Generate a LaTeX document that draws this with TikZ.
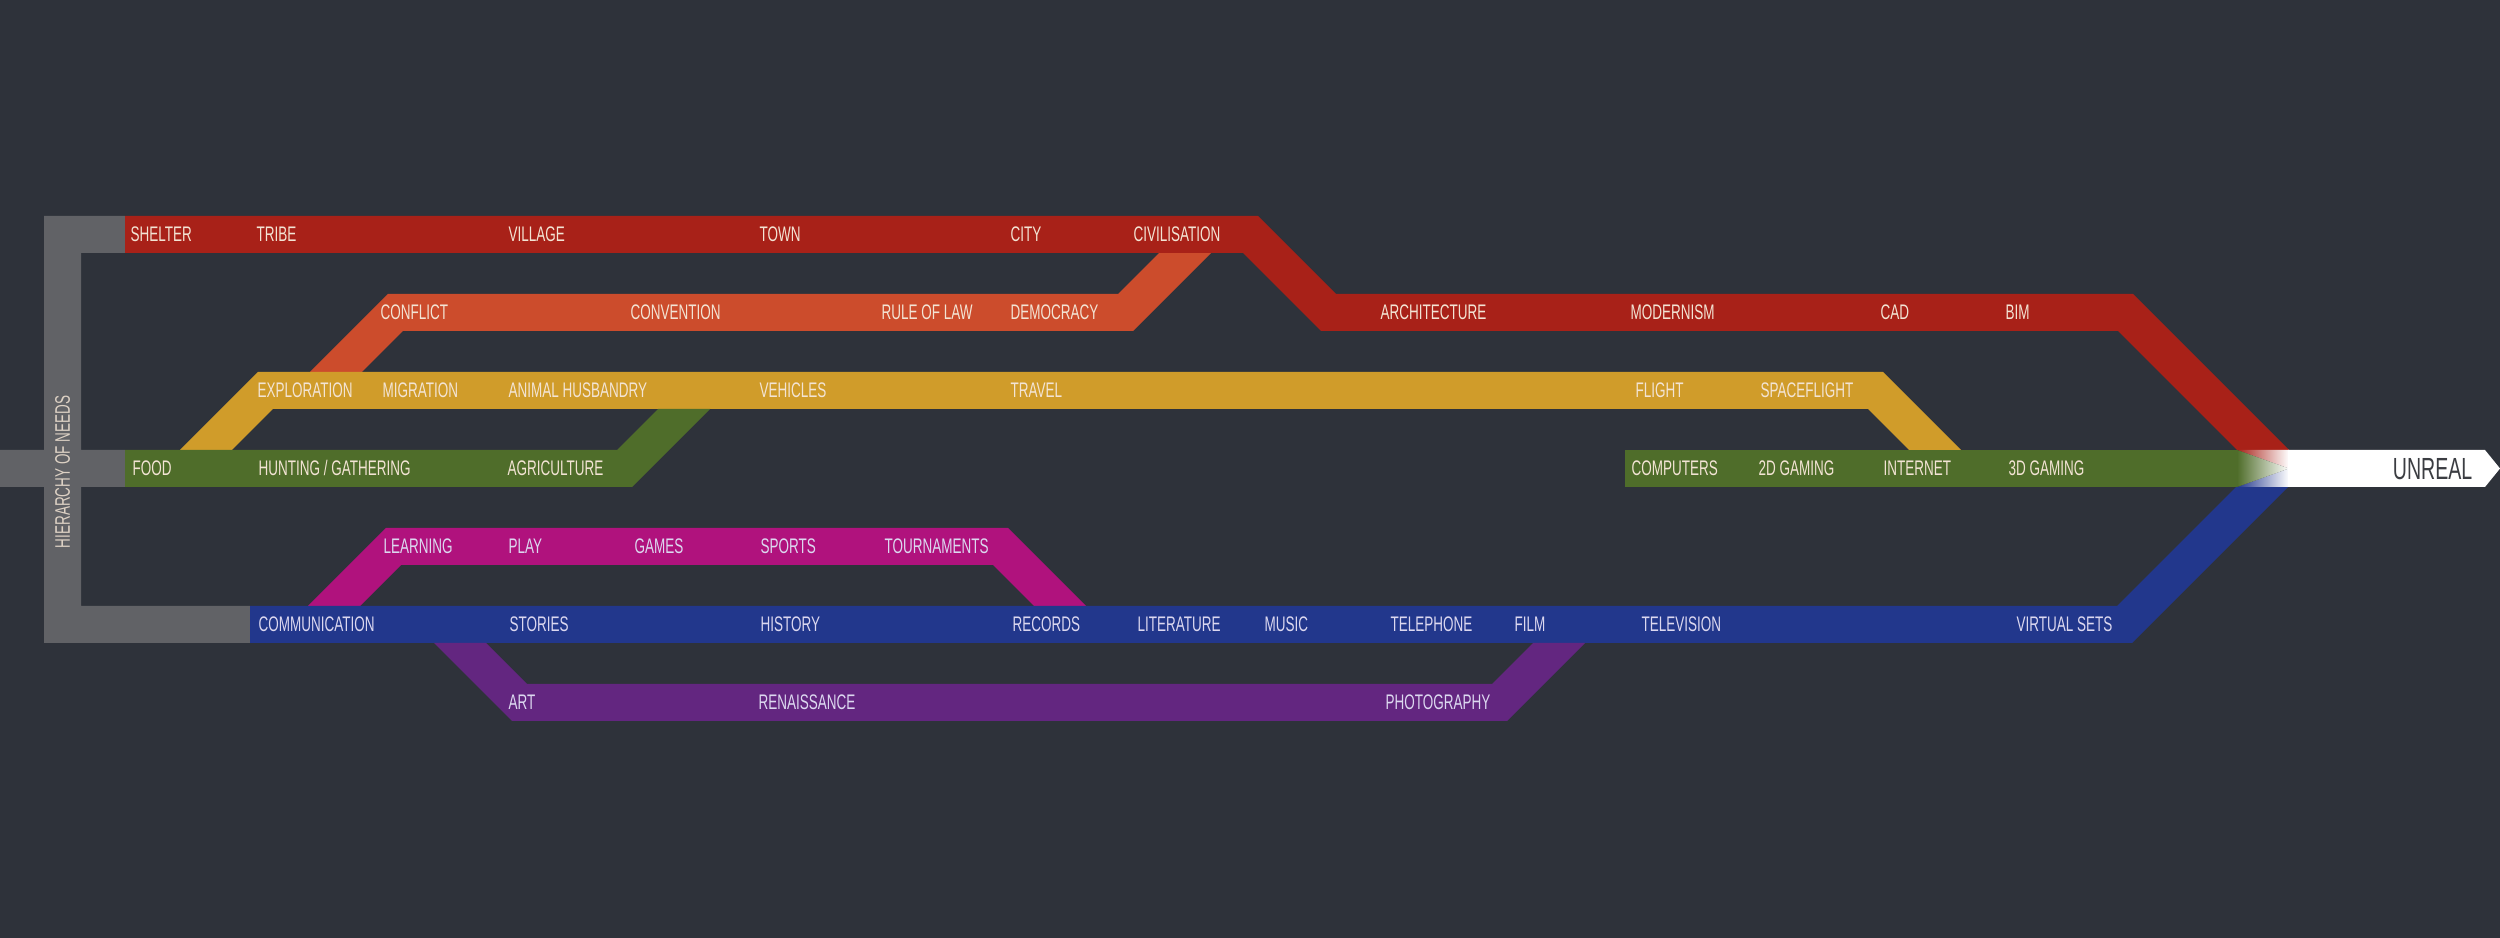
\documentclass[tikz,border=0pt]{standalone}
\usepackage{fontspec}
\newfontfamily\oswfont{Liberation Sans}[FakeStretch=0.64]
\definecolor{bgdark}{HTML}{2E323A}
\definecolor{needgray}{HTML}{616266}
\definecolor{shelterred}{HTML}{A82118}
\definecolor{lawred}{HTML}{CC4C2C}
\definecolor{travelgold}{HTML}{D09C2A}
\definecolor{foodgreen}{HTML}{4F6D2A}
\definecolor{playpink}{HTML}{B0127D}
\definecolor{talkblue}{HTML}{22378C}
\definecolor{artpurple}{HTML}{632680}
\definecolor{warmtext}{HTML}{F3E4D4}
\definecolor{cooltext}{HTML}{DCD8F0}
\definecolor{unrealtext}{HTML}{3B3D42}

\begin{document}
\begin{tikzpicture}[x=0.1mm, y=-0.1mm,
  track/.style={fill=#1},
  lbl/.style={text=#1, font=\oswfont\fontsize{6}{7}\selectfont, anchor=base west, inner sep=0pt},
  lbl/.default=warmtext,
]
  \fill[bgdark] (0,0) rectangle (2500,938);
  \useasboundingbox (0,0) rectangle (2500,938);

  \fill[track=needgray] (44,216) -- (125,216) -- (125,253) -- (81,253) -- (81,450) -- (125,450) -- (125,487) -- (81,487)
    -- (81,606) -- (250,606) -- (250,643) -- (44,643) -- (44,487) -- (0,487) -- (0,450) -- (44,450) -- cycle;
  \fill[track=lawred] (310,372) -- (388,294) -- (1118,294) -- (1159,253) -- (1211,253) -- (1133,331) -- (403,331) -- (362,372) -- cycle;
  \fill[track=shelterred] (125,216) -- (1258,216) -- (1336,294) -- (2133,294) -- (2289,450) -- (2237,450) -- (2118,331)
    -- (1321,331) -- (1243,253) -- (125,253) -- cycle;
  \fill[track=travelgold] (180,450) -- (258,372) -- (1883,372) -- (1961,450) -- (1909,450) -- (1868,409) -- (273,409) -- (232,450) -- cycle;
  \fill[track=foodgreen] (125,450) -- (617,450) -- (658,409) -- (710,409) -- (632,487) -- (125,487) -- cycle;
  \fill[track=foodgreen] (1625,450) rectangle (2237,487);
  \fill[track=playpink] (308,606) -- (386,528) -- (1008,528) -- (1086,606) -- (1034,606) -- (993,565) -- (401,565) -- (360,606) -- cycle;
  \fill[track=talkblue] (250,606) -- (2117,606) -- (2236,487) -- (2288,487) -- (2132,643) -- (250,643) -- cycle;
  \fill[track=artpurple] (434,643) -- (486,643) -- (527,684) -- (1492,684) -- (1533,643) -- (1585,643) -- (1507,721) -- (512,721) -- cycle;

  \shade[left color=shelterred, right color=white] (2237,450) -- (2289,450) -- (2289,468.5) -- cycle;
  \shade[left color=talkblue, right color=white] (2237,487) -- (2289,487) -- (2289,468.5) -- cycle;
  \shade[left color=foodgreen, right color=white] (2237,450) -- (2289,468.5) -- (2237,487) -- cycle;
  \fill[white] (2288,450) -- (2485,450) -- (2500,468.5) -- (2485,487) -- (2288,487) -- cycle;

  \node[text=warmtext!85!needgray, font=\oswfont\fontsize{6}{7}\selectfont, rotate=90, inner sep=0pt] (needs) at (62.5,472) {HIERARCHY OF NEEDS};
  \node[lbl=unrealtext, anchor=base east, font=\oswfont\fontsize{8.7}{10}\selectfont] (unreal) at (2473,480) {UNREAL};

  \node[lbl] (shelter) at (130,242) {SHELTER};
  \node[lbl] (tribe) at (256,242) {TRIBE};
  \node[lbl] (village) at (508,242) {VILLAGE};
  \node[lbl] (town) at (759,242) {TOWN};
  \node[lbl] (city) at (1010,242) {CITY};
  \node[lbl] (civil) at (1133,242) {CIVILISATION};

  \node[lbl] (conflict) at (380,320) {CONFLICT};
  \node[lbl] (convention) at (630,320) {CONVENTION};
  \node[lbl] (rulelaw) at (881,320) {RULE OF LAW};
  \node[lbl] (democracy) at (1010,320) {DEMOCRACY};
  \node[lbl] (architecture) at (1380,320) {ARCHITECTURE};
  \node[lbl] (modernism) at (1630,320) {MODERNISM};
  \node[lbl] (cad) at (1880,320) {CAD};
  \node[lbl] (bim) at (2005,320) {BIM};

  \node[lbl] (exploration) at (257,398) {EXPLORATION};
  \node[lbl] (migration) at (382,398) {MIGRATION};
  \node[lbl] (husbandry) at (508,398) {ANIMAL HUSBANDRY};
  \node[lbl] (vehicles) at (759,398) {VEHICLES};
  \node[lbl] (travel) at (1010,398) {TRAVEL};
  \node[lbl] (flight) at (1635,398) {FLIGHT};
  \node[lbl] (spaceflight) at (1760,398) {SPACEFLIGHT};

  \node[lbl] (food) at (132,476) {FOOD};
  \node[lbl] (hunting) at (258,476) {HUNTING / GATHERING};
  \node[lbl] (agriculture) at (507,476) {AGRICULTURE};
  \node[lbl] (computers) at (1631,476) {COMPUTERS};
  \node[lbl] (gamingtwo) at (1758,476) {2D GAMING};
  \node[lbl] (internet) at (1883,476) {INTERNET};
  \node[lbl] (gamingthree) at (2008,476) {3D GAMING};

  \node[lbl=cooltext] (learning) at (383,554) {LEARNING};
  \node[lbl=cooltext] (play) at (508,554) {PLAY};
  \node[lbl=cooltext] (games) at (634,554) {GAMES};
  \node[lbl=cooltext] (sports) at (760,554) {SPORTS};
  \node[lbl=cooltext] (tournaments) at (884,554) {TOURNAMENTS};

  \node[lbl=cooltext] (communication) at (258,632) {COMMUNICATION};
  \node[lbl=cooltext] (stories) at (509,632) {STORIES};
  \node[lbl=cooltext] (history) at (760,632) {HISTORY};
  \node[lbl=cooltext] (records) at (1012,632) {RECORDS};
  \node[lbl=cooltext] (literature) at (1137,632) {LITERATURE};
  \node[lbl=cooltext] (music) at (1264,632) {MUSIC};
  \node[lbl=cooltext] (telephone) at (1390,632) {TELEPHONE};
  \node[lbl=cooltext] (film) at (1514,632) {FILM};
  \node[lbl=cooltext] (television) at (1641,632) {TELEVISION};
  \node[lbl=cooltext] (virtualsets) at (2016,632) {VIRTUAL SETS};

  \node[lbl=cooltext] (art) at (508,710) {ART};
  \node[lbl=cooltext] (renaissance) at (758,710) {RENAISSANCE};
  \node[lbl=cooltext] (photography) at (1385,710) {PHOTOGRAPHY};
\end{tikzpicture}
\end{document}
